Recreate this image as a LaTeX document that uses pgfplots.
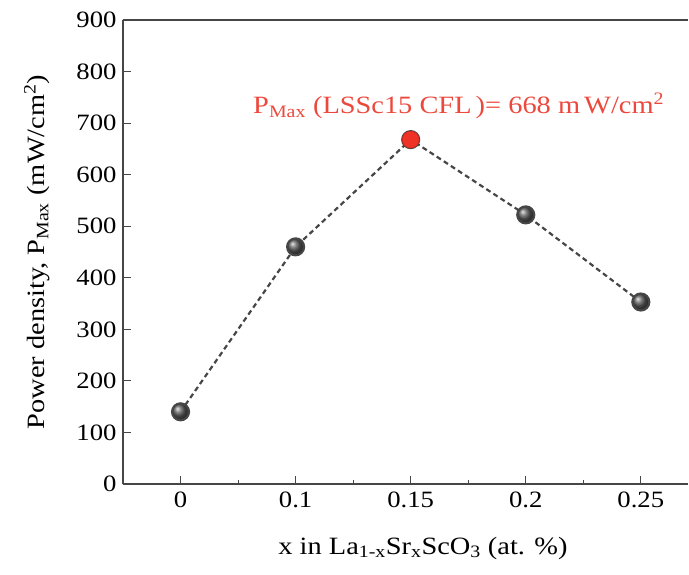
\documentclass[border=0pt]{standalone}
\usepackage{pgfplots}
\pgfplotsset{compat=1.18}
\usepackage{fontspec}
\setmainfont{Liberation Serif}[FakeStretch=1.14]
\definecolor{axgray}{RGB}{70,70,70}
\definecolor{annred}{RGB}{236,72,60}
\definecolor{ballred}{RGB}{238,50,38}
\newcommand{\fs}{\fontsize{23.5}{28}\selectfont}
\newcommand{\fl}{\fontsize{25}{30}\selectfont}
\begin{document}
\begin{tikzpicture}
\begin{axis}[
  scale only axis,
  width=565bp, height=464bp,
  xmin=-0.5, xmax=4.41,
  ymin=0, ymax=900,
  axis x line=box, axis y line=left,
  axis line style={axgray, line width=1.2pt, -},
  xtick={0,1,2,3,4},
  xticklabels={0,0.1,0.15,0.2,0.25},
  minor xtick={0.5,1.5,2.5,3.5},
  ytick={0,100,...,900},
  xtick pos=bottom, ytick pos=left,
  tick align=inside,
  major tick length=8bp, minor tick length=4bp,
  tick style={axgray, line width=1pt},
  /pgf/number format/assume math mode=true,
  ticklabel style={font=\fs, text=black},
  xticklabel style={yshift=-4bp},
  yticklabel style={xshift=-3bp},
  ylabel={Power density, P\textsubscript{Max} (mW/cm\textsuperscript{2})},
  ylabel style={at={(axis description cs:-0.152,0.5)}, anchor=center, font=\fl},
  xlabel={x in La\textsubscript{1-x}Sr\textsubscript{x}ScO\textsubscript{3} (at. \%)},
  xlabel style={at={(axis description cs:0.531,-0.138)}, anchor=center, font=\fl},
  clip=false,
]
\addplot[color=axgray, line width=2.2pt, dash pattern=on 5pt off 3.5pt,
  mark=ball, mark size=8.5pt, mark options={solid, ball color=gray!70!black}]
  coordinates {(0,140) (1,460) (2,668) (3,522) (4,353)};
\addplot[only marks, mark=*, mark size=8.5pt, mark options={fill=ballred, draw=ballred!85!black, line width=0.6pt}]
  coordinates {(2,668)};
\node[anchor=base west, text=annred, font=\fl, inner sep=0pt]
  at (axis cs:0.63,718) {P\textsubscript{Max} (LSSc15 CFL\,)= 668 m\,W/cm\textsuperscript{2}};
\end{axis}
\pgfresetboundingbox
\path[use as bounding box] ([shift={(-123bp,-91bp)}]current axis.south west) rectangle ++(689bp,575bp);
\end{tikzpicture}
\end{document}
